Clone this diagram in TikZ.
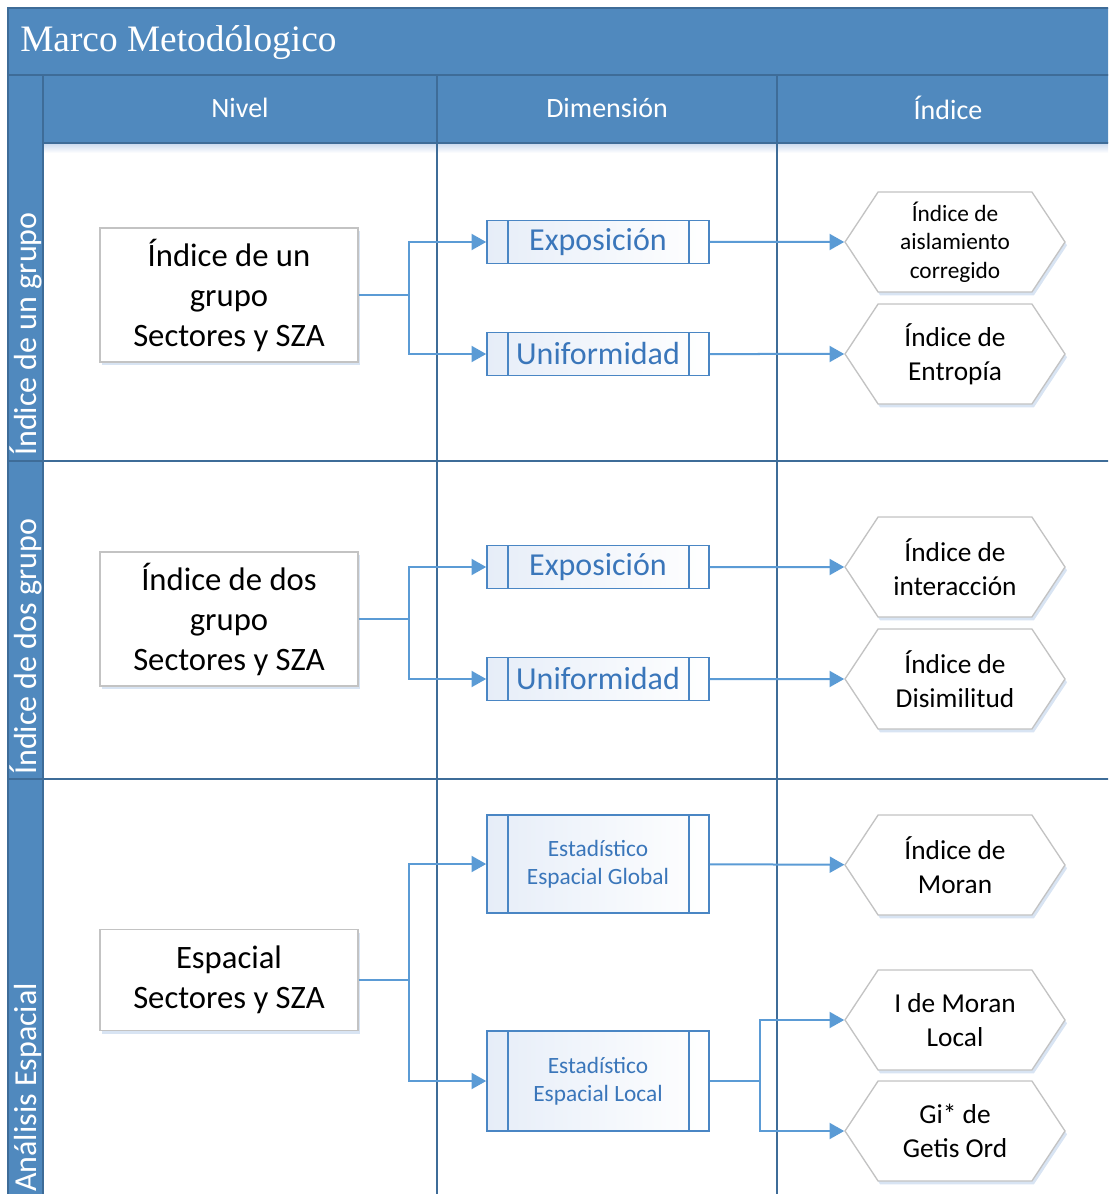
\documentclass[tikz,border=0pt]{standalone}
\usepackage{fontspec}
\setmainfont{Carlito}
\newfontfamily\titlefont{Liberation Serif}
\usetikzlibrary{arrows.meta,shapes.symbols,shadows}
\definecolor{headblue}{RGB}{80,137,190}
\definecolor{laneblue}{RGB}{62,108,152}
\definecolor{arrowblue}{RGB}{91,155,213}
\definecolor{procblue}{RGB}{74,134,196}
\definecolor{proctext}{RGB}{58,118,186}
\definecolor{procfill}{RGB}{230,237,248}
\definecolor{boxgray}{RGB}{195,195,195}
\definecolor{shadowblue}{RGB}{200,216,238}

\tikzset{
  lane/.style={laneblue, line width=1.5pt},
  headtext/.style={text=white, font=\fontsize{21}{25}\selectfont},
  lanetext/.style={text=white, rotate=90, anchor=base west, inner sep=0pt, font=\fontsize{24}{28}\selectfont},
  nivbox/.style={draw=boxgray, line width=1pt, fill=white, minimum width=193.5pt, align=center,
    font=\fontsize{24.5}{30}\selectfont,
    drop shadow={shadow xshift=1.5pt, shadow yshift=-2.5pt, fill=shadowblue, opacity=0.7}},
  procbox/.style={draw=procblue, line width=1.2pt, left color=procfill, right color=white,
    minimum width=166.5pt, text=proctext, align=center,
    path picture={
      \draw[procblue, line width=1.2pt]
        ([xshift=15.75pt]path picture bounding box.north west) -- ([xshift=15.75pt]path picture bounding box.south west)
        ([xshift=-15pt]path picture bounding box.north east) -- ([xshift=-15pt]path picture bounding box.south east);
    }},
  bigproc/.style={procbox, minimum height=32.25pt, font=\fontsize{24}{29}\selectfont},
  smallproc/.style={procbox, font=\fontsize{17.5}{21}\selectfont},
  hexa/.style={signal, signal to=west and east, signal pointer angle=113, draw=boxgray, line width=1pt,
    fill=white, minimum width=165pt, minimum height=75pt, inner xsep=0pt, align=center,
    font=\fontsize{20.5}{25.5}\selectfont,
    drop shadow={shadow xshift=1.5pt, shadow yshift=-2.5pt, fill=shadowblue, opacity=0.7}},
  flecha/.style={arrowblue, line width=1.5pt, ->},
}

\begin{document}
\begin{tikzpicture}[line cap=butt,line join=miter,>={Triangle[length=11pt,width=12pt]},x=0.75pt,y=-0.75pt]
\useasboundingbox (0,0) rectangle (1108,1194);
\clip (0,0) rectangle (1108,1194);

% swimlane frame
\fill[headblue] (8,8) rectangle (1119,143);
\fill[headblue] (8,75) rectangle (43,1240);
\shade[top color=shadowblue, bottom color=white] (43,143) rectangle (1119,153);
\draw[lane] (8,1240) -- (8,8) -- (1119,8);
\draw[lane] (8,75) -- (1119,75);
\draw[lane] (43,75) -- (43,1240);
\draw[lane] (43,143) -- (1119,143);
\draw[lane] (437,75) -- (437,1240);
\draw[lane] (777,75) -- (777,1240);
\draw[lane] (8,461) -- (1119,461);
\draw[lane] (8,779) -- (1119,779);

\node (titulo) at (20,52) [anchor=base west, inner sep=0pt, text=white, font=\titlefont\fontsize{28}{32}\selectfont] {Marco Metodólogico};
\node (hNivel) at (240,108) [headtext] {Nivel};
\node (hDimension) at (607,108) [headtext] {Dimensión};
\node (hIndice) at (948,108) [headtext] {Índice};

\node (lUno) at (36,456) [lanetext] {Índice de un grupo};
\node (lDos) at (36,775) [lanetext] {Índice de dos grupo};
\node (lTres) at (36,1192) [lanetext] {Análisis Espacial};

% nivel
\node (nivUno) at (229,295) [nivbox, minimum height=100.5pt] {Índice de un\\grupo\\Sectores y SZA};
\node (nivDos) at (229,619) [nivbox, minimum height=100.5pt] {Índice de dos\\grupo\\Sectores y SZA};
\node (nivTres) at (229,980) [nivbox, minimum height=75.75pt] {Espacial\\Sectores y SZA};

% dimension
\node (expUno) at (598,242) [bigproc] {Exposición};
\node (uniUno) at (598,354) [bigproc] {Uniformidad};
\node (expDos) at (598,567) [bigproc] {Exposición};
\node (uniDos) at (598,679) [bigproc] {Uniformidad};
\node (estGlobal) at (598,864) [smallproc, minimum height=73.5pt] {Estadístico\\Espacial Global};
\node (estLocal) at (598,1081) [smallproc, minimum height=75pt] {Estadístico\\Espacial Local};

% indices
\node (aislam) at (955,242) [hexa, font=\fontsize{17.5}{21.5}\selectfont] {Índice de\\aislamiento\\corregido};
\node (entropia) at (955,354) [hexa] {Índice de\\Entropía};
\node (interac) at (955,567) [hexa] {Índice de\\interacción};
\node (disimil) at (955,679) [hexa] {Índice de\\Disimilitud};
\node (moran) at (955,865) [hexa] {Índice de\\Moran};
\node (moranLoc) at (955,1020) [hexa] {I de Moran\\Local};
\node (getis) at (955,1131) [hexa] {Gi* de\\Getis Ord};

% conectores
\coordinate (rUno) at (409,295);
\coordinate (rDos) at (409,619);
\coordinate (rTres) at (409,980);
\coordinate (rLocal) at (760,1081);
\draw[flecha,-] (nivUno) -- (rUno);
\draw[flecha] (rUno) |- (expUno);
\draw[flecha] (rUno) |- (uniUno);
\draw[flecha] (expUno) -- (aislam);
\draw[flecha] (uniUno) -- (entropia);
\draw[flecha,-] (nivDos) -- (rDos);
\draw[flecha] (rDos) |- (expDos);
\draw[flecha] (rDos) |- (uniDos);
\draw[flecha] (expDos) -- (interac);
\draw[flecha] (uniDos) -- (disimil);
\draw[flecha,-] (nivTres) -- (rTres);
\draw[flecha] (rTres) |- (estGlobal);
\draw[flecha] (rTres) |- (estLocal);
\draw[flecha] (estGlobal) -- (moran);
\draw[flecha,-] (estLocal) -- (rLocal);
\draw[flecha] (rLocal) |- (moranLoc);
\draw[flecha] (rLocal) |- (getis);
\end{tikzpicture}
\end{document}
